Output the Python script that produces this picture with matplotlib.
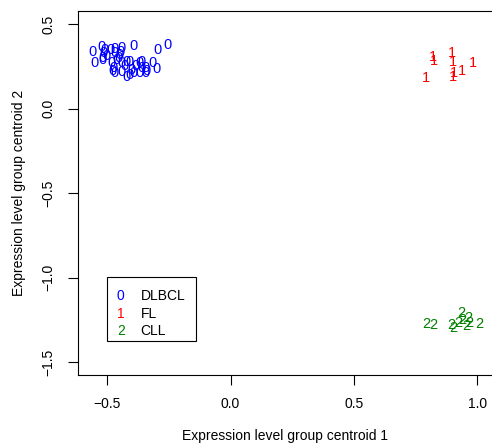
import matplotlib
matplotlib.use("Agg")
import matplotlib.pyplot as plt
from matplotlib.patches import Rectangle

plt.rcParams['font.family'] = ['Liberation Sans', 'DejaVu Sans']

dlbcl_x = [-0.559, -0.523, -0.516, -0.519, -0.550, -0.489, -0.469, -0.442, -0.449, -0.462,
           -0.482, -0.476, -0.469, -0.442, -0.442, -0.421, -0.408, -0.421, -0.392, -0.395,
           -0.370, -0.361, -0.370, -0.347, -0.347, -0.316, -0.300, -0.297, -0.257,
           -0.510, -0.505, -0.455, -0.430, -0.385, -0.360, -0.480, -0.400, -0.520, -0.445,
           -0.410, -0.340, -0.470]
dlbcl_y = [0.336, 0.366, 0.327, 0.297, 0.268, 0.346, 0.327, 0.356, 0.317, 0.287,
           0.268, 0.238, 0.209, 0.268, 0.218, 0.277, 0.277, 0.189, 0.370, 0.209,
           0.268, 0.238, 0.212, 0.209, 0.238, 0.268, 0.232, 0.346, 0.376,
           0.345, 0.310, 0.300, 0.250, 0.250, 0.275, 0.225, 0.230, 0.285, 0.335,
           0.200, 0.225, 0.350]
fl_x = [0.819, 0.824, 0.896, 0.903, 0.792, 0.900, 0.907, 0.937, 0.981]
fl_y = [0.307, 0.283, 0.330, 0.277, 0.179, 0.189, 0.209, 0.224, 0.268]
cll_x = [0.792, 0.824, 0.896, 0.903, 0.937, 0.941, 0.957, 0.963, 0.970, 1.008, 0.923]
cll_y = [-1.273, -1.278, -1.278, -1.298, -1.209, -1.249, -1.284, -1.239, -1.265, -1.273, -1.268]

groups = [("0", "DLBCL", dlbcl_x, dlbcl_y, "#0000FF"),
          ("1", "FL", fl_x, fl_y, "#FF0000"),
          ("2", "CLL", cll_x, cll_y, "#008000")]

xticks = [-0.5, 0.0, 0.5, 1.0]
yticks = [-1.5, -1.0, -0.5, 0.0, 0.5]

W, H = 492, 443
FS = 10
fig = plt.figure(figsize=(W / 100, H / 100), dpi=100)
ax = fig.add_axes([77.7 / W, (H - 375) / H, (492 - 77.7) / W, (375 - 11) / H])
ax.set_xlim(-0.62, 1.06)
ax.set_ylim(-1.574, 0.577)

for sym, name, xs, ys, col in groups:
    for x, y in zip(xs, ys):
        ax.text(x, y, sym, color=col, fontsize=10.5, ha='center', va='center')

ax.set_xticks(xticks)
ax.set_xticklabels([f"{t:.1f}".replace('-', '\u2212') for t in xticks])
ax.set_yticks(yticks)
ax.set_yticklabels([f"{t:.1f}".replace('-', '\u2212') for t in yticks], rotation=90, va='center')
ax.tick_params(direction='out', length=7, width=0.8, labelsize=FS, pad=9)
for s in ax.spines.values():
    s.set_linewidth(0.8)
ax.spines['right'].set_visible(False)

ax.set_xlabel("Expression level group centroid 1", fontsize=FS, labelpad=13)
ax.set_ylabel("Expression level group centroid 2", fontsize=FS, labelpad=11)

# legend box
def fx(px):
    return px / W

def fy(py):
    return (H - py) / H

fig.patches.append(Rectangle((fx(107.3), fy(341)), fx(196) - fx(107.3), fy(277) - fy(341),
                             transform=fig.transFigure, fill=False, edgecolor='black', linewidth=0.8))
rows = [296, 313.5, 331]
for (sym, name, xs, ys, col), ry in zip(groups, rows):
    fig.text(fx(120.7), fy(ry), sym, color=col, fontsize=FS, ha='center', va='center')
    fig.text(fx(140.7), fy(ry), name, color='black', fontsize=FS, ha='left', va='center')

fig.savefig("out.png", dpi=100)
